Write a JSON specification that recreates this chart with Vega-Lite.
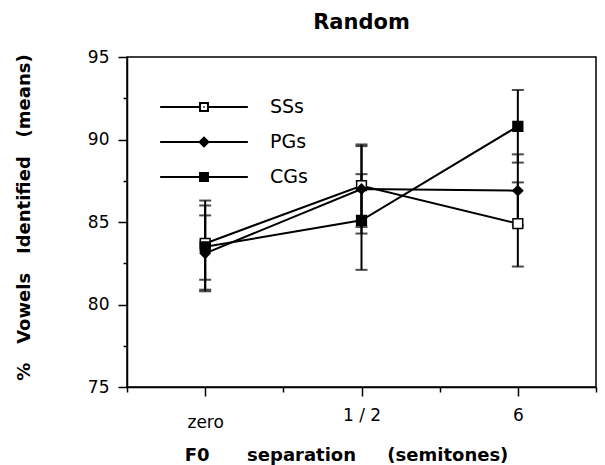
{
  "$schema": "https://vega.github.io/schema/vega-lite/v6.json",
  "width": 469,
  "height": 330,
  "autosize": "none",
  "padding": {"left": 127, "top": 57, "right": 9, "bottom": 78},
  "background": "white",
  "title": {"text": "Random", "font": "DejaVu Sans", "fontSize": 21, "fontWeight": "bold", "color": "black", "anchor": "middle", "baseline": "bottom", "frame": "group", "offset": -6},
  "data": {"values": [
    {"series": "SSs", "sep": "zero", "x": 1, "mean": 83.7, "lo": 81.5, "hi": 86.3},
    {"series": "SSs", "sep": "1 / 2", "x": 2, "mean": 87.2, "lo": 84.7, "hi": 89.7},
    {"series": "SSs", "sep": "6", "x": 3, "mean": 84.9, "lo": 82.3, "hi": 87.4},
    {"series": "PGs", "sep": "zero", "x": 1, "mean": 83.1, "lo": 80.8, "hi": 85.4},
    {"series": "PGs", "sep": "1 / 2", "x": 2, "mean": 87.0, "lo": 84.3, "hi": 89.6},
    {"series": "PGs", "sep": "6", "x": 3, "mean": 86.9, "lo": 84.8, "hi": 89.1},
    {"series": "CGs", "sep": "zero", "x": 1, "mean": 83.5, "lo": 80.9, "hi": 86.0},
    {"series": "CGs", "sep": "1 / 2", "x": 2, "mean": 85.1, "lo": 82.1, "hi": 87.9},
    {"series": "CGs", "sep": "6", "x": 3, "mean": 90.8, "lo": 88.6, "hi": 93.0}
  ]},
  "encoding": {
    "x": {"field": "x", "type": "quantitative",
      "scale": {"domain": [0.5, 3.5], "nice": false, "zero": false},
      "axis": {"values": [0.5, 1, 1.5, 2, 2.5, 3, 3.5],
        "labelExpr": "datum.value == 1 ? 'zero' : datum.value == 2 ? '1 / 2' : datum.value == 3 ? '6' : ''",
        "title": "F0\u00a0\u00a0\u00a0\u00a0\u00a0\u00a0separation\u00a0\u00a0\u00a0\u00a0\u00a0(semitones)",
        "titleFont": "DejaVu Sans", "titleFontSize": 18, "titleFontWeight": "bold", "titleColor": "black",
        "titleX": 219, "titleY": 68, "titleBaseline": "middle",
        "labelFont": "DejaVu Sans", "labelFontSize": 17, "labelColor": "black",
        "labelPadding": {"condition": {"test": "datum.value == 1", "value": 18}, "value": 11},
        "grid": false, "domainColor": "black", "domainWidth": 1.5, "tickColor": "black", "tickWidth": 1.5,
        "tickSize": {"condition": {"test": "datum.value % 1 !== 0", "value": 5}, "value": 9}}
    },
    "y": {"field": "mean", "type": "quantitative",
      "scale": {"domain": [75, 95], "nice": false, "zero": false},
      "axis": {"values": [75, 77.5, 80, 82.5, 85, 87.5, 90, 92.5, 95],
        "labelExpr": "datum.value % 5 === 0 ? datum.label : ''",
        "title": "%\u00a0\u00a0\u00a0Vowels\u00a0\u00a0\u00a0Identified\u00a0\u00a0\u00a0(means)",
        "titleFont": "DejaVu Sans", "titleFontSize": 18, "titleFontWeight": "bold", "titleColor": "black",
        "titleX": -103, "titleY": 160, "titleBaseline": "middle", "titleAngle": -90,
        "labelFont": "DejaVu Sans", "labelFontSize": 17, "labelColor": "black", "labelPadding": 9,
        "grid": false, "domainColor": "black", "domainWidth": 1.5, "tickColor": "black", "tickWidth": 1.5,
        "tickSize": {"condition": {"test": "datum.value % 5 !== 0", "value": 4}, "value": 9}}
    }
  },
  "layer": [
    {"mark": {"type": "line", "color": "black", "strokeWidth": 2},
     "encoding": {"detail": {"field": "series"}}},
    {"mark": {"type": "rule", "color": "black", "strokeWidth": 2},
     "encoding": {"y": {"field": "lo", "type": "quantitative"}, "y2": {"field": "hi"}}},
    {"mark": {"type": "tick", "color": "black", "orient": "horizontal", "size": 12, "thickness": 2},
     "encoding": {"y": {"field": "lo", "type": "quantitative"}}},
    {"mark": {"type": "tick", "color": "black", "orient": "horizontal", "size": 12, "thickness": 2},
     "encoding": {"y": {"field": "hi", "type": "quantitative"}}},
    {"mark": {"type": "point", "filled": true, "stroke": "black", "strokeWidth": 1.5, "size": 95, "opacity": 1},
     "encoding": {
       "shape": {"field": "series", "type": "nominal",
         "scale": {"domain": ["SSs", "PGs", "CGs"], "range": ["square", "diamond", "square"]},
         "legend": null},
       "fill": {"field": "series", "type": "nominal",
         "scale": {"domain": ["SSs", "PGs", "CGs"], "range": ["white", "black", "black"]},
         "legend": null}
     }},
    {"mark": {"type": "point", "filled": true, "color": "black", "opacity": 0},
     "encoding": {
       "shape": {"field": "series", "type": "nominal",
         "scale": {"domain": ["SSs", "PGs", "CGs"], "range": [
           "M-3,-0.07H-0.34V0.07H-3Z M0.34,-0.07H3V0.07H0.34Z M-0.34,-0.34H0.34V0.34H-0.34Z M-0.2,-0.2V0.2H0.2V-0.2Z M-0.05,-0.05H0.05V0.05H-0.05Z",
           "M-3,-0.06H-0.3V0.06H-3Z M0.3,-0.06H3V0.06H0.3Z M0,-0.4L0.4,0L0,0.4L-0.4,0Z",
           "M-3,-0.07H-0.34V0.07H-3Z M0.34,-0.07H3V0.07H0.34Z M-0.34,-0.34H0.34V0.34H-0.34Z"
         ]},
         "legend": {"orient": "none", "legendX": 62, "legendY": 35, "title": null, "padding": 0,
           "symbolSize": 855, "rowPadding": 10, "labelOffset": 51, "symbolOpacity": 1,
           "symbolFillColor": "black", "symbolStrokeWidth": 0,
           "labelFont": "DejaVu Sans", "labelFontSize": 19, "labelColor": "black"}}
     }}
  ],
  "resolve": {"scale": {"shape": "independent"}},
  "config": {
    "font": "DejaVu Sans",
    "view": {"stroke": "black", "strokeWidth": 1.5}
  }
}
